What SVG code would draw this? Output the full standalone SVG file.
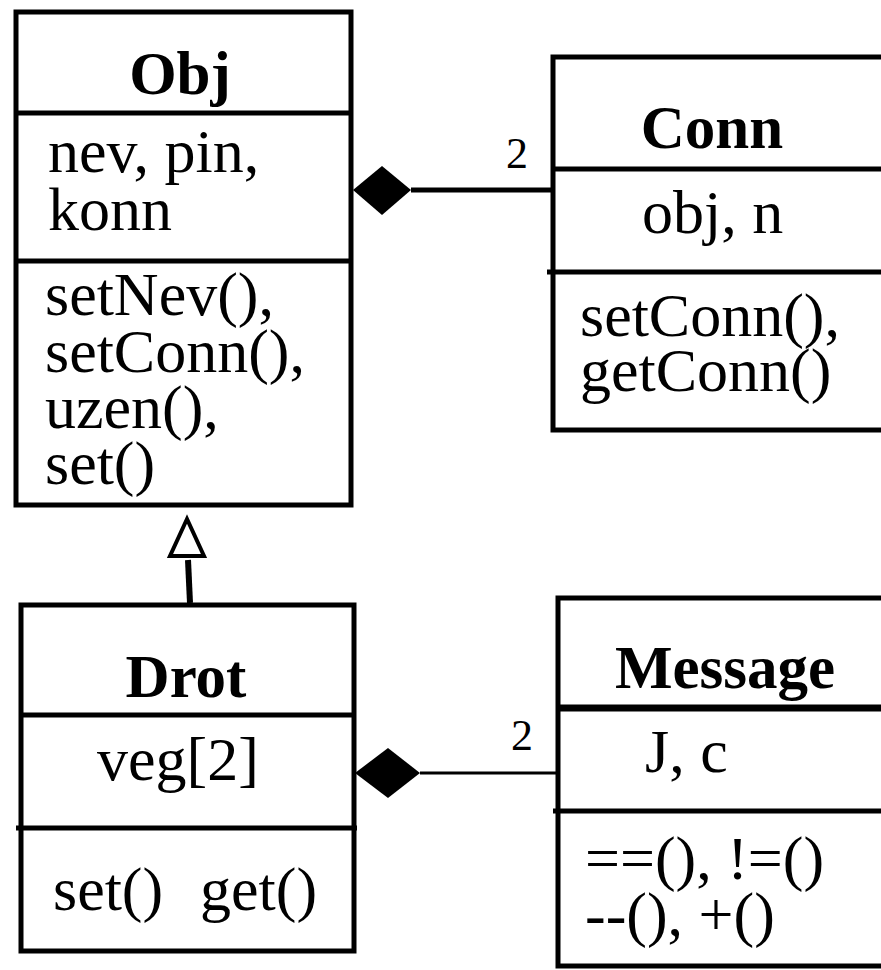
<svg xmlns="http://www.w3.org/2000/svg" width="881" height="970" viewBox="0 0 881 970">
<style>
.box{fill:#fff;stroke:#000;stroke-width:5}
.div{stroke:#000;stroke-width:5}
.t{font-family:"Liberation Serif","Times New Roman",serif;font-size:62px;fill:#000}
.title{font-family:"Liberation Serif","Times New Roman",serif;font-size:61px;font-weight:bold;fill:#000;text-anchor:middle}
.lbl{font-family:"Liberation Serif","Times New Roman",serif;font-size:44px;fill:#000}
</style>
<rect width="881" height="970" fill="#fff"/>
<g id="connectors">
<line x1="411" y1="190" x2="553" y2="190" stroke="#000" stroke-width="5"/>
<polygon points="353,190 382,166 411,190 382,215" fill="#000"/>
<text class="lbl" x="506" y="168">2</text>
<line x1="420" y1="773" x2="558" y2="773" stroke="#000" stroke-width="3"/>
<polygon points="355,773 388,748 420,773 388,798" fill="#000"/>
<text class="lbl" x="511" y="750">2</text>
<line x1="188" y1="560" x2="190" y2="603" stroke="#000" stroke-width="6"/>
<polygon points="187,519 170,556 204,556" fill="#fff" stroke="#000" stroke-width="4"/>
</g>
<g id="obj">
<rect class="box" x="16" y="12" width="335" height="493"/>
<line class="div" x1="16" y1="113" x2="351" y2="113"/>
<line class="div" x1="16" y1="261" x2="351" y2="261"/>
<text class="title" x="180" y="94">Obj</text>
<text class="t" x="48" y="172">nev, pin,</text>
<text class="t" x="48" y="230">konn</text>
<text class="t" x="45" y="315">setNev(),</text>
<text class="t" x="45" y="372">setConn(),</text>
<text class="t" x="45" y="428">uzen(),</text>
<text class="t" x="45" y="484">set()</text>
</g>
<g id="conn">
<rect class="box" x="553" y="57" width="360" height="373"/>
<line class="div" x1="553" y1="169" x2="900" y2="169"/>
<line class="div" x1="547" y1="272" x2="900" y2="272"/>
<text class="title" x="712" y="148">Conn</text>
<text class="t" x="642" y="233">obj, n</text>
<text class="t" x="580" y="336">setConn(),</text>
<text class="t" x="580" y="391">getConn()</text>
</g>
<g id="drot">
<rect class="box" x="21" y="605" width="333" height="346"/>
<line class="div" x1="21" y1="715" x2="354" y2="715"/>
<line class="div" x1="16" y1="828" x2="357" y2="828"/>
<text class="title" x="186" y="697">Drot</text>
<text class="t" x="97" y="780">veg[2]</text>
<text class="t" x="53" y="910">set()<tspan x="200">get()</tspan></text>
</g>
<g id="message">
<rect class="box" x="558" y="598" width="360" height="368"/>
<line x1="558" y1="708" x2="900" y2="708" stroke="#000" stroke-width="7"/>
<line class="div" x1="553" y1="811" x2="900" y2="811"/>
<text class="title" x="725" y="688">Message</text>
<text class="t" x="645" y="772">J, c</text>
<text class="t" x="585" y="879">==(), !=()</text>
<text class="t" x="585" y="935">--(), +()</text>
</g>
</svg>
